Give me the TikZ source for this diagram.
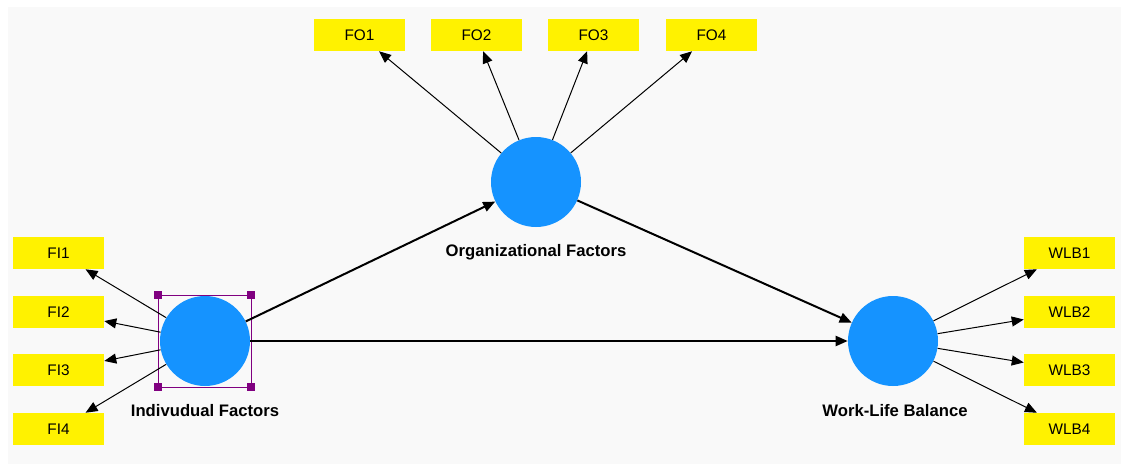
\documentclass[tikz,border=0pt]{standalone}
\usepackage{fontspec}
\setmainfont{Liberation Sans}
\usetikzlibrary{arrows.meta}
\definecolor{bgc}{RGB}{249,249,249}
\definecolor{lvblue}{RGB}{21,147,255}
\definecolor{selpurple}{RGB}{128,0,128}
\tikzset{
  ind/.style={fill=yellow, draw=none, minimum width=68.25pt, minimum height=24pt, inner sep=0pt, font=\fontsize{11.5}{13}\selectfont},
  lv/.style={circle, fill=lvblue, draw=none, minimum size=67.5pt, inner sep=0pt},
  lvlabel/.style={font=\fontsize{12.5}{14}\selectfont\bfseries, inner sep=0pt},
  outer/.style={-{Triangle[length=9pt,width=7.5pt]}, line width=0.75pt, black},
  inner/.style={-{Triangle[length=9pt,width=7.5pt]}, line width=1.5pt, black},
  handle/.style={fill=selpurple, draw=none, minimum size=5.5pt, inner sep=0pt}
}
\begin{document}
\begin{tikzpicture}[x=0.75pt,y=-0.75pt]
\useasboundingbox (0,0) rectangle (1121,464);
\fill[bgc] (8,7) rectangle (1121,464);
% indicator boxes
\node[ind] (FO1) at (359.5,35) {FO1};
\node[ind] (FO2) at (476.5,35) {FO2};
\node[ind] (FO3) at (593.5,35) {FO3};
\node[ind] (FO4) at (711.5,35) {FO4};
\node[ind] (FI1) at (58.5,253) {FI1};
\node[ind] (FI2) at (58.5,312) {FI2};
\node[ind] (FI3) at (58.5,370) {FI3};
\node[ind] (FI4) at (58.5,429) {FI4};
\node[ind] (WLB1) at (1069.5,253) {WLB1};
\node[ind] (WLB2) at (1069.5,312) {WLB2};
\node[ind] (WLB3) at (1069.5,370) {WLB3};
\node[ind] (WLB4) at (1069.5,429) {WLB4};
% latent variables
\node[lv] (IF) at (205,341) {};
\node[lv] (OF) at (536,182) {};
\node[lv] (WL) at (893,341) {};
\node[lvlabel] (IFl) at (205,411) {Indivudual Factors};
\node[lvlabel] (OFl) at (536,252) {Organizational Factors};
\node[lvlabel] (WLl) at (895,411) {Work-Life Balance};
% selection frame
\coordinate (s1) at (158,295);
\coordinate (s2) at (251,295);
\coordinate (s3) at (251,387);
\coordinate (s4) at (158,387);
\draw[selpurple, line width=0.75pt] (s1) -- (s2) -- (s3) -- (s4) -- cycle;
\node[handle] (h1) at (s1) {};
\node[handle] (h2) at (s2) {};
\node[handle] (h3) at (s3) {};
\node[handle] (h4) at (s4) {};
% outer model
\foreach \t in {FO1,FO2,FO3,FO4} \draw[outer] (OF) -- (\t);
\foreach \t in {FI1,FI2,FI3,FI4} \draw[outer] (IF) -- (\t);
\foreach \t in {WLB1,WLB2,WLB3,WLB4} \draw[outer] (WL) -- (\t);
% inner model
\draw[inner] (IF) -- (OF);
\draw[inner] (OF) -- (WL);
\draw[inner] (IF) -- (WL);
\end{tikzpicture}
\end{document}
